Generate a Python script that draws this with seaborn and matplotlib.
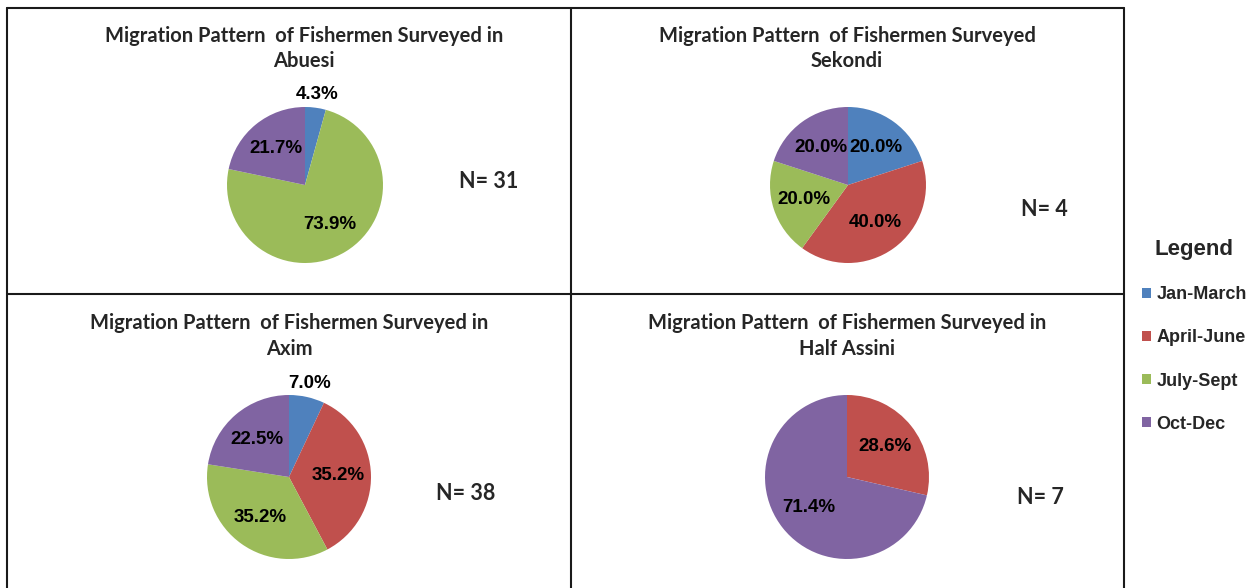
import matplotlib
matplotlib.use("Agg")
import numpy as np
import matplotlib.pyplot as plt
import seaborn as sns
from matplotlib.lines import Line2D

# data
months = ["Jan-March", "April-June", "July-Sept", "Oct-Dec"]
towns = ["Abuesi", "Sekondi", "Axim", "Half Assini"]
abuesi = [4.3, 0.0, 73.9, 21.7]
sekondi = [20.0, 40.0, 20.0, 20.0]
axim = [7.0, 35.2, 35.2, 22.5]
half_assini = [0.0, 28.6, 0.0, 71.4]
sample_sizes = [31, 4, 38, 7]
title_heads = ["Migration Pattern  of Fishermen Surveyed in",
               "Migration Pattern  of Fishermen Surveyed",
               "Migration Pattern  of Fishermen Surveyed in",
               "Migration Pattern  of Fishermen Surveyed in"]

sns.set_style("white")
palette = sns.color_palette(["#4F81BD", "#C0504D", "#9BBB59", "#8064A2"])

W, H = 1257, 588
fig = plt.figure(figsize=(W / 100, H / 100), dpi=100)

# layout of each panel, in pixels
panels = [
    dict(cx=305, cy=185, r=78, tx=304, ty=48.5, nx=489, ny=182),
    dict(cx=848, cy=185, r=78, tx=847, ty=48.5, nx=1044, ny=209),
    dict(cx=289, cy=477, r=82, tx=289, ty=336, nx=466, ny=494),
    dict(cx=847, cy=477, r=82, tx=847, ty=336, nx=1040, ny=497),
]

title_font = dict(family="Lato", weight="bold", size=14.5)
pct_font = dict(family="Liberation Sans", weight="bold", size=13.5)

legend_wedges = None
for vals, town, head, n, p in zip([abuesi, sekondi, axim, half_assini], towns,
                                  title_heads, sample_sizes, panels):
    s = 2.5 * p["r"]
    ax = fig.add_axes([(p["cx"] - s / 2) / W, (H - p["cy"] - s / 2) / H, s / W, s / H])
    wedges, _ = ax.pie(vals, colors=palette, startangle=90, counterclock=False,
                       wedgeprops=dict(linewidth=0))
    ax.set_xlim(-1.25, 1.25)
    ax.set_ylim(-1.25, 1.25)
    for w, v in zip(wedges, vals):
        if v <= 0:
            continue
        ang = np.deg2rad((w.theta1 + w.theta2) / 2)
        d = 1.17 if v < 10 else 0.6
        ax.text(d * np.cos(ang), d * np.sin(ang), f"{v:.1f}%", ha="center",
                va="center", color="black", **pct_font)
    if town == "Sekondi":
        legend_wedges = wedges

    fig.text(p["tx"] / W, 1 - p["ty"] / H, head + "\n" + town, ha="center",
             va="center", linespacing=1.35, **title_font)
    fig.text(p["nx"] / W, 1 - p["ny"] / H, f"N= {n}", ha="center", va="center",
             family="Lato", weight="bold", size=15.5)

# panel borders
x0, x1, xm = 7, 1123.5, 570.5
y0, ym = 7.5, 294
for xs, ys in [((x0, x1), (y0, y0)), ((x0, x0), (y0, H)), ((x1, x1), (y0, H)),
               ((xm, xm), (y0, H)), ((x0, x1), (ym, ym))]:
    fig.add_artist(Line2D([x / W for x in xs], [1 - y / H for y in ys],
                          transform=fig.transFigure, color="#1a1a1a", lw=1.5))

leg = fig.legend(legend_wedges, months, title="Legend", loc="upper left",
                 bbox_to_anchor=(1133 / W, 1 - 230 / H), frameon=False,
                 borderpad=0, handlelength=0.5, handleheight=0.5,
                 handletextpad=0.3, labelspacing=1.45,
                 prop=dict(family="Liberation Sans", weight="bold", size=13),
                 title_fontproperties=dict(family="Liberation Sans", weight="bold", size=16))

fig.savefig("out.png", dpi=100)
